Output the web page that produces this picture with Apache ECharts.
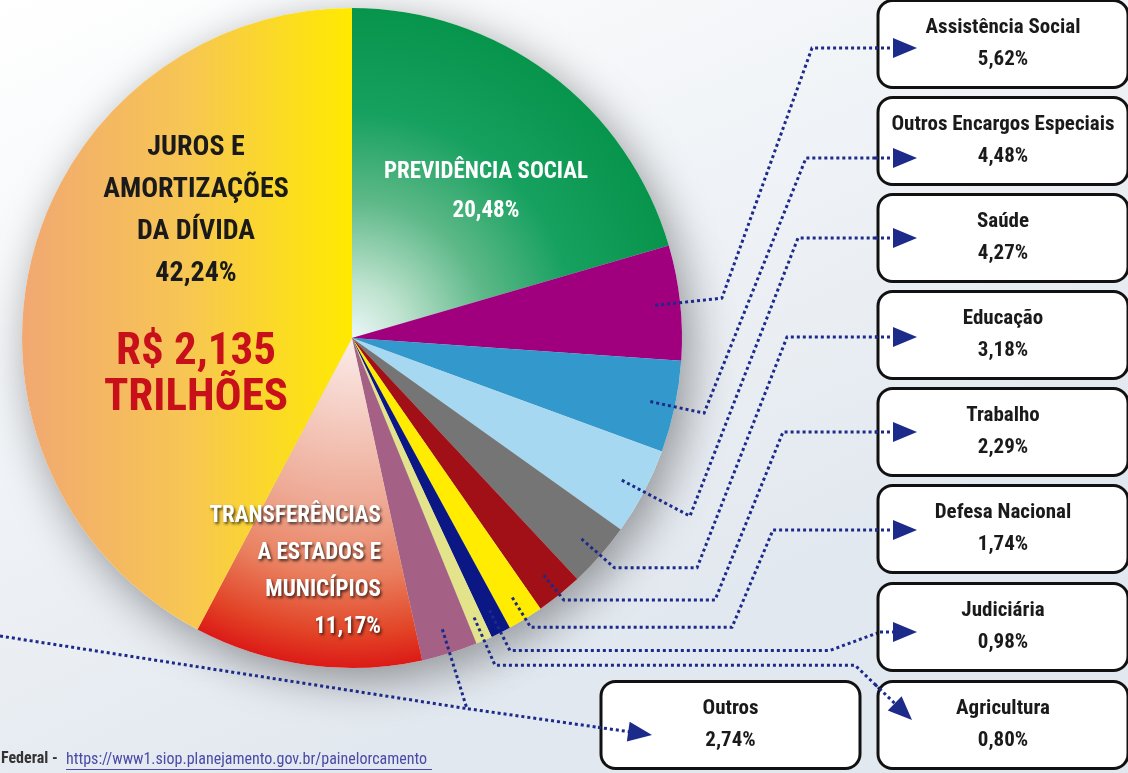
<!DOCTYPE html>
<html>
<head>
<meta charset="utf-8">
<script src="https://cdn.jsdelivr.net/npm/echarts@6/dist/echarts.min.js"></script>
<style>
html, body { margin: 0; padding: 0; }
#main { width: 1128px; height: 773px; }
</style>
</head>
<body>
<div id="main"></div>
<script>
var chartDom = document.getElementById('main');
var myChart = echarts.init(chartDom);

// dados
var names = [
    'PREVIDÊNCIA SOCIAL',
    'Assistência Social',
    'Outros Encargos Especiais',
    'Saúde',
    'Educação',
    'Trabalho',
    'Defesa Nacional',
    'Judiciária',
    'Agricultura',
    'Outros',
    'TRANSFERÊNCIAS\nA ESTADOS E\nMUNICÍPIOS',
    'JUROS E\nAMORTIZAÇÕES\nDA DÍVIDA'
];
var shares = [20.48, 5.62, 4.48, 4.27, 3.18, 2.29, 1.74, 0.98, 0.80, 2.74, 11.17, 42.24];
var totalValue = 'R$ 2,135';
var totalUnit = 'TRILHÕES';
var sourceLabel = 'Federal -';
var sourceUrl = 'https://www1.siop.planejamento.gov.br/painelorcamento';

var cx = 352, cy = 338, R = 330;
var FONT = "'Roboto Condensed', 'Liberation Sans Narrow', Roboto, sans-serif";
var NAVY = '#1c2a8a';

var colors = [
    {type: 'radial', x: cx, y: cy, r: R, global: true, colorStops: [
        {offset: 0, color: '#eaf6f8'}, {offset: 0.16, color: '#bfe3cf'},
        {offset: 0.42, color: '#5db888'}, {offset: 0.68, color: '#17a160'},
        {offset: 1, color: '#07944b'}]},
    '#a0007e', '#3399cc', '#a6d9f1', '#757575', '#a11016',
    '#ffec00', '#0b1785', '#e3e38c', '#a46185',
    {type: 'radial', x: cx, y: cy, r: R, global: true, colorStops: [
        {offset: 0, color: '#fbecea'}, {offset: 0.5, color: '#eeaa95'},
        {offset: 0.72, color: '#e9805f'}, {offset: 0.9, color: '#e24326'},
        {offset: 1, color: '#dc1a17'}]},
    {type: 'linear', x: cx - R, y: 0, x2: cx, y2: 0, global: true, colorStops: [
        {offset: 0, color: '#f1a872'}, {offset: 0.5, color: '#f7c653'},
        {offset: 1, color: '#ffea00'}]}
];

// caixas: [esquerda, topo, largura, ponta x, seta y, raio dobra, x corrida, x subida]
var boxes = {
    1: [878, 2, 250, 917, 48, 372, null, 812],
    2: [878, 99, 250, 917, 158, 360, null, 806],
    3: [878, 196, 250, 917, 238, 382, null, 798],
    4: [878, 293, 250, 917, 337, 349, 697, 787],
    5: [878, 390, 250, 917, 432, 337, 715, 783],
    6: [878, 487, 250, 917, 530, 340, 732, 773],
    7: [878, 585, 250, 917, 632, 350, 830, 880],
    8: [878, 683, 250, 912, 720, 357, 855, 912],
    9: [601, 683, 259, 652, 735, 388, null, 652]
};
var insidePos = {0: [486, 192, 'center'], 10: [381, 572, 'right'], 11: [196, 274, 'center']};

var sum = shares.reduce(function (a, b) { return a + b; }, 0);

function midDir(i) {
    var c = 0;
    for (var k = 0; k < i; k++) c += shares[k];
    var a = (c + shares[i] / 2) / sum * 2 * Math.PI;
    return [Math.sin(a), -Math.cos(a)];
}

function fmt(v) {
    return v.toFixed(2).replace('.', ',') + '%';
}

function route(i) {
    var b = boxes[i], d = midDir(i);
    var pts = [[cx + d[0] * 305, cy + d[1] * 305], [cx + d[0] * b[5], cy + d[1] * b[5]]];
    var by = pts[1][1];
    if (b[6] != null) pts.push([b[6], by]);
    pts.push([b[7], b[4]]);
    if (b[7] < b[3]) pts.push([b[3], b[4]]);
    return pts;
}

// seta + trecho pontilhado dentro da caixa
function arrowParts(i) {
    var p = route(i);
    var t = p[p.length - 1], s = p[p.length - 2];
    var dx = t[0] - s[0], dy = t[1] - s[1], L = Math.sqrt(dx * dx + dy * dy);
    dx /= L; dy /= L;
    var left = boxes[i][0] - 3;
    var u = (left - s[0]) / (t[0] - s[0]);
    var start = u > 0 ? [s[0] + u * (t[0] - s[0]), s[1] + u * (t[1] - s[1])] : s;
    return [
        {
            type: 'polyline', z: 99, silent: true,
            shape: {points: [start, [t[0] - dx * 20, t[1] - dy * 20]]},
            style: {stroke: NAVY, lineWidth: 3, lineDash: [3, 3], fill: null}
        },
        {
            type: 'polygon', z: 100, silent: true,
            shape: {points: [
                [t[0], t[1]],
                [t[0] - dx * 24 - dy * 10, t[1] - dy * 24 + dx * 10],
                [t[0] - dx * 24 + dy * 10, t[1] - dy * 24 - dx * 10]
            ]},
            style: {fill: NAVY}
        }
    ];
}

var boxText = {fontSize: 21, fontWeight: 'bold', lineHeight: 32, color: '#1a1a1a', fontFamily: FONT};
var plain = {backgroundColor: 'transparent', borderWidth: 0, padding: 0};

var sliceData = names.map(function (n, i) {
    return {name: n, value: shares[i], itemStyle: {color: colors[i]}};
});

var labelData = names.map(function (n, i) {
    var item = {name: n, value: shares[i]};
    if (boxes[i]) {
        item.label = {
            width: boxes[i][2] - 3,
            formatter: '{n|' + n + '}\n{n|' + fmt(shares[i]) + '}',
            rich: {n: boxText}
        };
    } else {
        item.labelLine = {show: false};
    }
    return item;
});

labelData[0].label = echarts.util.extend({
    position: 'inside',
    formatter: '{t|' + names[0] + '}\n{t|' + fmt(shares[0]) + '}',
    rich: {t: {fontSize: 23, fontWeight: 'bold', lineHeight: 39, color: '#ffffff', fontFamily: FONT}}
}, plain);
labelData[10].label = echarts.util.extend({
    position: 'inside',
    formatter: '{t|' + names[10] + '}\n{t|' + fmt(shares[10]) + '}',
    rich: {t: {fontSize: 23, fontWeight: 'bold', lineHeight: 37, color: '#ffffff', fontFamily: FONT,
        align: 'right', textShadowColor: 'rgba(0,0,0,0.7)', textShadowBlur: 3,
        textShadowOffsetX: 1.5, textShadowOffsetY: 1.5}}
}, plain);
labelData[11].label = echarts.util.extend({
    position: 'inside',
    formatter: '{t|' + names[11] + '}\n{t|' + fmt(shares[11]) + '}\n{g| }\n{r|' + totalValue + '}\n{r|' + totalUnit + '}',
    rich: {
        t: {fontSize: 28, fontWeight: 'bold', lineHeight: 42, color: '#1a1a1a', fontFamily: FONT},
        g: {fontSize: 10, lineHeight: 35},
        r: {fontSize: 45, fontWeight: 'bold', lineHeight: 46, color: '#c8101a', fontFamily: FONT}
    }
}, plain);

var arrows = [];
Object.keys(boxes).forEach(function (k) { arrows = arrows.concat(arrowParts(+k)); });
var outrosBend = route(9)[1];

var pieBase = {
    type: 'pie',
    silent: true,
    center: [cx, cy],
    radius: R,
    startAngle: 90
};

option = {
    backgroundColor: {type: 'linear', x: 0, y: 0, x2: 0.3, y2: 1, colorStops: [
        {offset: 0, color: '#ffffff'}, {offset: 1, color: '#e2e8ef'}]},
    animation: false,
    graphic: {
        elements: arrows.concat([
            {
                type: 'polyline', z: 5, silent: true,
                shape: {points: [[0, 636], outrosBend]},
                style: {stroke: NAVY, lineWidth: 3, lineDash: [3, 3], fill: null}
            },
            {
                type: 'text', x: 1, y: 751, silent: true,
                style: {text: sourceLabel, fill: '#333333', font: "bold 16px " + FONT}
            },
            {
                type: 'text', x: 66, y: 752, silent: true,
                style: {text: sourceUrl, fill: '#4b4aa6', font: "16px " + FONT}
            },
            {
                type: 'rect', x: 66, y: 769, silent: true,
                shape: {width: 366, height: 1},
                style: {fill: '#4b4aa6'}
            }
        ])
    },
    series: [
        echarts.util.extend({
            // sombra
            z: 1,
            label: {show: false},
            labelLine: {show: false},
            itemStyle: {
                color: '#ffffff',
                shadowBlur: 45,
                shadowColor: 'rgba(0,0,0,0.4)',
                shadowOffsetX: 8,
                shadowOffsetY: 12
            },
            data: shares
        }, pieBase),
        echarts.util.extend({
            // fatias
            z: 2,
            label: {show: false},
            labelLine: {show: false},
            data: sliceData
        }, pieBase),
        echarts.util.extend({
            // rótulos e linhas
            z: 3,
            avoidLabelOverlap: false,
            itemStyle: {color: 'rgba(0,0,0,0)'},
            label: {
                position: 'outside',
                overflow: 'none',
                align: 'center',
                fontFamily: FONT,
                backgroundColor: '#ffffff',
                borderColor: '#111111',
                borderWidth: 3,
                borderRadius: 13,
                padding: [10, 0, 10, 0]
            },
            labelLine: {
                show: true,
                lineStyle: {color: NAVY, width: 3, type: [3, 3]}
            },
            labelLayout: function (params) {
                var i = params.dataIndex;
                var b = boxes[i];
                if (b) {
                    return {
                        x: b[0] + b[2] / 2,
                        y: b[1],
                        align: 'center',
                        verticalAlign: 'top',
                        labelLinePoints: route(i)
                    };
                }
                var p = insidePos[i];
                return {x: p[0], y: p[1], align: p[2], verticalAlign: 'middle'};
            },
            data: labelData
        }, pieBase)
    ]
};

option && myChart.setOption(option);
</script>
</body>
</html>
